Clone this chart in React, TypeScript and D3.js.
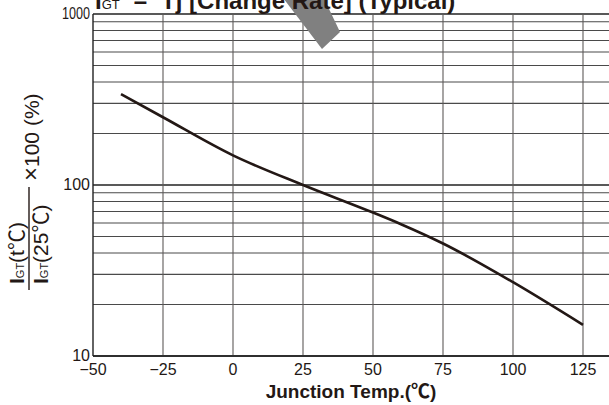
import React from 'react'
import * as d3 from 'd3'

// curve (IGT(t) / IGT(25C) x 100)
const temps = [-40, -25, 0, 25, 50, 60, 75, 100, 125]
const changeRate = [340, 249, 149, 100, 69, 59, 45.5, 27, 15.2]

const xTicks = [-50, -25, 0, 25, 50, 75, 100, 125]
const yTickLabels = [10, 100, 1000]

const W = 609
const H = 405
const plot = { left: 93, top: 14, right: 583, bottom: 356 }

const FONT = "'Liberation Sans', Arial, 'Noto Sans CJK JP', sans-serif"
const INK = '#231815'

const App = () => {
  const xScale = d3.scaleLinear().domain([-50, 125]).range([plot.left, plot.right])
  const yScale = d3.scaleLog().domain([10, 1000]).range([plot.bottom, plot.top])

  // the chart runs on past the right edge of the picture
  const xEnd = xScale(150)
  const gridY = yScale.ticks()

  const line = d3.line<number>()
    .x((_, i) => xScale(temps[i]))
    .y(d => yScale(d))
    .curve(d3.curveMonotoneX)

  // grey diagonal band over the title (leftover annotation)
  const bx = xScale(25) - 26
  const band = [[bx, -10], [bx + 43, -10], [bx + 63, 32], [bx + 45, 49]]

  return (
    <svg width={W} height={H} style={{ position: 'absolute', left: 0, top: 0, display: 'block', background: '#fff' }}>
      <rect width={W} height={H} fill='#fff' />

      {/* horizontal grid */}
      {gridY.map(v => (
        <line key={`h${v}`} x1={plot.left} x2={xEnd} y1={yScale(v)} y2={yScale(v)}
          stroke={yTickLabels.includes(v) ? '#222' : '#4a4a4a'} strokeWidth={yTickLabels.includes(v) ? 1.3 : 1.1} />
      ))}

      {/* vertical grid */}
      {xTicks.slice(1).map(t => (
        <line key={`v${t}`} x1={xScale(t)} x2={xScale(t)} y1={plot.top} y2={plot.bottom}
          stroke='#5e5a58' strokeWidth={1.1} />
      ))}

      {/* frame */}
      <line x1={plot.left} x2={plot.left} y1={plot.top} y2={plot.bottom} stroke='#222' strokeWidth={1.4} />
      <line x1={plot.left} x2={xEnd} y1={plot.bottom} y2={plot.bottom} stroke='#222' strokeWidth={1.4} />

      <polygon points={band.map(p => p.join(',')).join(' ')} fill='#808080' />

      {/* curve */}
      <path d={line(changeRate) || ''} fill='none' stroke={INK} strokeWidth={2.6} strokeLinejoin='round' />

      {/* y tick labels */}
      {yTickLabels.map(v => (
        <text key={`yl${v}`} x={plot.left - 3} y={yScale(v) + 5} textAnchor='end'
          fontFamily={FONT} fontSize={16} fill={INK}
          textLength={v >= 1000 ? 28 : undefined} lengthAdjust='spacingAndGlyphs'>{v}</text>
      ))}

      {/* x tick labels */}
      {xTicks.map(t => (
        <text key={`xl${t}`} x={xScale(t)} y={375} textAnchor='middle'
          fontFamily={FONT} fontSize={16} fill={INK}>{t < 0 ? `\u2212${-t}` : t}</text>
      ))}

      <text x={(plot.left + W) / 2} y={398} textAnchor='middle' fontFamily={FONT}
        fontSize={19} fontWeight='bold' fill={INK}>Junction Temp.(℃)</text>

      {/* title, cut by the top of the picture */}
      <text x={95} y={9} fontFamily={FONT} fontSize={24} fontWeight='bold' fill={INK}>
        <tspan>I</tspan>
        <tspan fontSize={13} fontWeight='normal'>GT</tspan>
        <tspan dx={14}>–</tspan>
        <tspan dx={14}>Tj [Change Rate] (Typical)</tspan>
      </text>

      {/* y axis label: fraction x 100 (%) */}
      <g transform='rotate(-90)' fontFamily={FONT} fill={INK}>
        <text x={-284} y={24} fontSize={21}>
          <tspan fontWeight='bold'>I</tspan>
          <tspan fontSize={11}>GT</tspan>
          <tspan>(t℃)</tspan>
        </text>
        <line x1={-290} x2={-187} y1={29} y2={29} stroke={INK} strokeWidth={1.4} />
        <text x={-284} y={48} fontSize={21}>
          <tspan fontWeight='bold'>I</tspan>
          <tspan fontSize={11}>GT</tspan>
          <tspan>(25℃)</tspan>
        </text>
        <text x={-181} y={39} fontSize={21}>
          <tspan fontSize={24}>×</tspan>100 (%)
        </text>
      </g>
    </svg>
  )
}

export default App
